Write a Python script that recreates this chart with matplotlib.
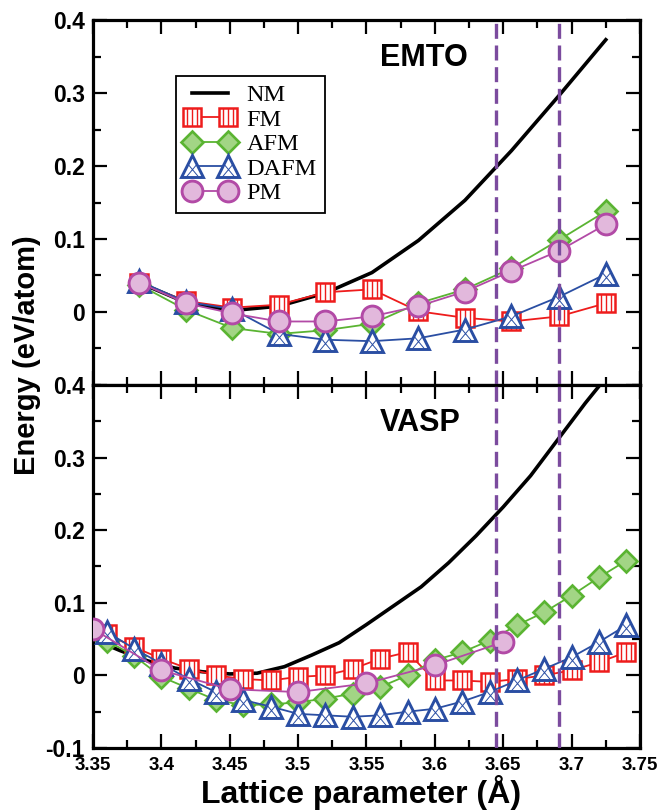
import matplotlib
matplotlib.use('Agg')
import matplotlib.pyplot as plt
from matplotlib.path import Path
from matplotlib.ticker import MultipleLocator

# EMTO (top panel)
x_emto = [3.384, 3.418, 3.452, 3.486, 3.520, 3.554, 3.588, 3.622, 3.656, 3.691, 3.725]
emto_nm = [0.040, 0.013, 0.002, 0.008, 0.026, 0.054, 0.098, 0.153, 0.221, 0.297, 0.373]
emto_fm = [0.040, 0.015, 0.006, 0.010, 0.027, 0.031, 0.001, -0.008, -0.013, -0.006, 0.012]
emto_afm = [0.037, 0.003, -0.022, -0.030, -0.025, -0.016, 0.012, 0.031, 0.060, 0.099, 0.138]
emto_dafm = [0.042, 0.014, 0.004, -0.030, -0.038, -0.040, -0.036, -0.024, -0.006, 0.021, 0.052]
emto_pm = [0.040, 0.012, -0.002, -0.013, -0.013, -0.006, 0.008, 0.028, 0.056, 0.084, 0.120]

# VASP (bottom panel)
x_vasp = [3.36, 3.38, 3.40, 3.42, 3.44, 3.46, 3.48, 3.50, 3.52, 3.54,
          3.56, 3.58, 3.60, 3.62, 3.64, 3.66, 3.68, 3.70, 3.72, 3.74]
vasp_fm = [0.057, 0.039, 0.023, 0.009, 0.000, -0.005, -0.007, -0.002, 0.000, 0.009,
           0.023, 0.032, -0.007, -0.007, -0.009, -0.005, 0.000, 0.007, 0.018, 0.032]
vasp_afm = [0.048, 0.027, -0.002, -0.018, -0.034, -0.041, -0.040, -0.037, -0.032, -0.025,
            -0.016, 0.000, 0.021, 0.032, 0.048, 0.069, 0.087, 0.110, 0.135, 0.158]
vasp_dafm = [0.060, 0.037, 0.016, -0.005, -0.023, -0.034, -0.043, -0.053, -0.055, -0.057,
             -0.055, -0.050, -0.046, -0.036, -0.023, -0.007, 0.009, 0.025, 0.046, 0.069]
x_vasp_pm = [3.35, 3.40, 3.45, 3.50, 3.55, 3.60, 3.65]
vasp_pm = [0.064, 0.007, -0.019, -0.023, -0.011, 0.014, 0.046]
x_vasp_nm = [3.35, 3.37, 3.39, 3.41, 3.43, 3.45, 3.47, 3.49, 3.51, 3.53,
             3.55, 3.57, 3.59, 3.61, 3.63, 3.65, 3.67, 3.69, 3.71, 3.725]
vasp_nm = [0.050, 0.034, 0.020, 0.010, 0.005, 0.002, 0.003, 0.012, 0.028, 0.045,
           0.070, 0.096, 0.122, 0.155, 0.192, 0.232, 0.275, 0.325, 0.375, 0.410]

# experimental lattice parameters (dashed lines)
a_exp = [3.645, 3.691]

RED = '#ee1c1c'
GREEN = '#5ab432'
BLUE = '#2a4ea3'
MAG = '#b24aa6'
PURPLE = '#7b4b9e'

M, L = Path.MOVETO, Path.LINETO
# vertical stripes inside the squares
sq_hatch = Path([(-0.25, -0.5), (-0.25, 0.5), (0, -0.5), (0, 0.5), (0.25, -0.5), (0.25, 0.5)],
                [M, L, M, L, M, L])
# cross inside the triangles
tri_hatch = Path([(-0.3, -0.5), (0.2, 0.1), (0.3, -0.5), (-0.2, 0.1)], [M, L, M, L])

plt.rcParams['font.family'] = 'Liberation Sans'
plt.rcParams['font.weight'] = 'bold'

fig = plt.figure(figsize=(6.67, 8.11), dpi=100)
ax1 = fig.add_axes([0.1394, 0.5253, 0.8201, 0.4500])
ax2 = fig.add_axes([0.1394, 0.0777, 0.8201, 0.4476])


def draw(ax, xnm, nm, xs, fm, afm, dafm, xpm, pm):
    h_nm, = ax.plot(xnm, nm, color='black', lw=2.6, zorder=2)
    h_fm, = ax.plot(xs, fm, color=RED, lw=1.3, marker='s', ms=13.5, mfc='white',
                    mec=RED, mew=1.8, zorder=3)
    h_fm2, = ax.plot(xs, fm, ls='none', marker=sq_hatch, ms=13.5, mfc='none',
                     mec=RED, mew=1.0, zorder=3.1)
    h_afm, = ax.plot(xs, afm, color=GREEN, lw=1.3, marker='D', ms=11.5, mfc='#a2d585',
                     mec=GREEN, mew=1.9, zorder=4)
    h_dafm, = ax.plot(xs, dafm, color=BLUE, lw=1.3, marker='^', ms=16, mfc='white',
                      mec=BLUE, mew=2.1, zorder=5)
    h_dafm2, = ax.plot(xs, dafm, ls='none', marker=tri_hatch, ms=16, mfc='none',
                       mec=BLUE, mew=0.7, zorder=5.1)
    h_pm, = ax.plot(xpm, pm, color=MAG, lw=1.3, marker='o', ms=15, mfc='#e2b8dc',
                    mec=MAG, mew=2.1, zorder=6)
    for a in a_exp:
        ax.axvline(a, color=PURPLE, lw=2.4, ls=(0, (4.5, 2.0)), zorder=7)
    ax.set_xlim(3.35, 3.75)
    ax.set_ylim(-0.1, 0.4)
    ax.xaxis.set_major_locator(MultipleLocator(0.05))
    ax.xaxis.set_minor_locator(MultipleLocator(0.025))
    ax.yaxis.set_minor_locator(MultipleLocator(0.05))
    ax.tick_params(which='both', direction='in', top=True, right=True, width=1.6)
    ax.tick_params(which='major', length=10)
    ax.tick_params(which='minor', length=5.5)
    ax.tick_params(axis='y', labelsize=16.5, pad=6)
    ax.tick_params(axis='x', labelsize=13.5, pad=6.5)
    for s in ax.spines.values():
        s.set_linewidth(2.3)
    return [h_nm, (h_fm, h_fm2), h_afm, (h_dafm, h_dafm2), h_pm]


handles = draw(ax1, x_emto, emto_nm, x_emto, emto_fm, emto_afm, emto_dafm, x_emto, emto_pm)
draw(ax2, x_vasp_nm, vasp_nm, x_vasp, vasp_fm, vasp_afm, vasp_dafm, x_vasp_pm, vasp_pm)

ax1.set_yticks([0, 0.1, 0.2, 0.3, 0.4])
ax1.set_yticklabels(['0', '0.1', '0.2', '0.3', '0.4'])
ax1.tick_params(axis='x', labelbottom=False)
ax2.set_yticks([-0.1, 0, 0.1, 0.2, 0.3, 0.4])
ax2.set_yticklabels(['-0.1', '0', '0.1', '0.2', '0.3', '0.4'])
ax2.set_xticks([3.35, 3.4, 3.45, 3.5, 3.55, 3.6, 3.65, 3.7, 3.75])
ax2.set_xticklabels(['3.35', '3.4', '3.45', '3.5', '3.55', '3.6', '3.65', '3.7', '3.75'])

ax1.text(3.56, 0.337, 'EMTO', fontsize=22, fontweight='bold', va='baseline')
ax2.text(3.56, 0.337, 'VASP', fontsize=22, fontweight='bold', va='baseline')

leg = ax1.legend(handles, ['NM', 'FM', 'AFM', 'DAFM', 'PM'], numpoints=2,
                 loc='upper left', bbox_to_anchor=(0.152, 0.847), borderaxespad=0,
                 prop={'family': 'Liberation Serif', 'size': 17.5, 'weight': 'normal'},
                 fancybox=False, framealpha=1, edgecolor='black',
                 handlelength=2.1, handletextpad=0.45, labelspacing=0.1, borderpad=0.35)
leg.get_frame().set_linewidth(1.3)

fig.text(0.040, 0.562, 'Energy (eV/atom)', rotation=90, ha='center', va='center',
         fontsize=21, fontweight='bold')
fig.text(0.542, 0.0099, 'Lattice parameter (Å)', ha='center', va='baseline',
         fontsize=23, fontweight='bold')

fig.savefig('out.png', dpi=100)
